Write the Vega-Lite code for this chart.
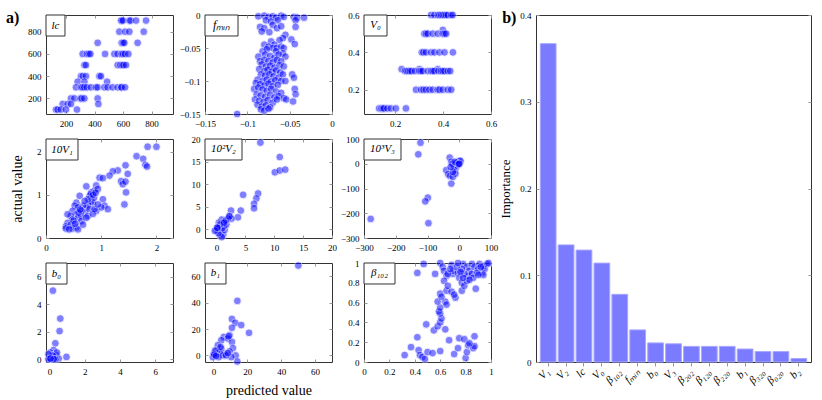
{
"$schema": "https://vega.github.io/schema/vega-lite/v6.json",
"background": "white",
"padding": {"left": 5, "top": 9, "right": 5, "bottom": 5},
"config": {
  "font": "Liberation Serif",
  "view": {"stroke": "#333", "strokeWidth": 1},
  "axis": {"domain": false, "grid": false, "tickColor": "#999", "tickSize": -3, "labelFont": "Liberation Serif", "labelFontSize": 9, "labelColor": "#000", "labelPadding": 8, "labelFlush": false, "labelOverlap": false, "titleFont": "Liberation Serif", "titleFontWeight": "normal", "titleFontSize": 13, "titleColor": "#000"},
  "axisQuantitative": {"format": "~f"},
  "circle": {"size": 60, "color": "#0000ff", "opacity": 0.5, "stroke": "#ffffff", "strokeWidth": 0.8}
},
"datasets": {
  "lc": [
    {"p":586,"a":900},{"p":590,"a":900},{"p":600,"a":900},{"p":644,"a":900},{"p":652,"a":900},{"p":691,"a":900},{"p":761,"a":900},
    {"p":574,"a":800},{"p":614,"a":800},{"p":644,"a":800},{"p":745,"a":800},
    {"p":422,"a":700},{"p":590,"a":700},{"p":600,"a":700},{"p":609,"a":700},{"p":702,"a":700},
    {"p":317,"a":600},{"p":347,"a":600},{"p":360,"a":600},{"p":371,"a":600},{"p":474,"a":600},{"p":539,"a":600},{"p":562,"a":600},{"p":590,"a":600},{"p":600,"a":600},{"p":614,"a":600},{"p":637,"a":600},
    {"p":329,"a":500},{"p":340,"a":500},{"p":562,"a":500},{"p":581,"a":500},{"p":595,"a":500},{"p":604,"a":500},{"p":621,"a":500},
    {"p":305,"a":400},{"p":318,"a":400},{"p":340,"a":400},{"p":434,"a":400},{"p":445,"a":400},
    {"p":282,"a":350},{"p":329,"a":350},{"p":488,"a":350},
    {"p":270,"a":300},{"p":305,"a":300},{"p":315,"a":300},{"p":329,"a":300},{"p":347,"a":300},{"p":375,"a":300},{"p":410,"a":300},{"p":422,"a":300},{"p":469,"a":300},{"p":492,"a":300},{"p":527,"a":300},{"p":562,"a":300},{"p":586,"a":300},{"p":590,"a":300},{"p":614,"a":300},
    {"p":235,"a":200},{"p":259,"a":200},{"p":301,"a":200},{"p":310,"a":200},{"p":329,"a":200},{"p":422,"a":200},
    {"p":177,"a":150},{"p":212,"a":150},{"p":235,"a":150},{"p":427,"a":150},
    {"p":130,"a":100},{"p":142,"a":100},{"p":165,"a":100},{"p":200,"a":100},{"p":277,"a":100}
  ],
  "fmin": [
    {"p":-0.087,"a":-0.002},{"p":-0.080,"a":-0.001},{"p":-0.075,"a":-0.003},{"p":-0.070,"a":-0.002},{"p":-0.066,"a":-0.004},{"p":-0.060,"a":-0.001},{"p":-0.057,"a":-0.003},{"p":-0.045,"a":-0.003},{"p":-0.041,"a":-0.004},{"p":-0.033,"a":-0.004},
    {"p":-0.078,"a":-0.008},{"p":-0.072,"a":-0.010},{"p":-0.064,"a":-0.008},{"p":-0.043,"a":-0.008},{"p":-0.085,"a":-0.018},{"p":-0.080,"a":-0.020},{"p":-0.070,"a":-0.015},{"p":-0.065,"a":-0.020},{"p":-0.060,"a":-0.017},{"p":-0.083,"a":-0.025},{"p":-0.074,"a":-0.026},{"p":-0.043,"a":-0.018},
    {"p":-0.055,"a":-0.030},{"p":-0.058,"a":-0.035},{"p":-0.062,"a":-0.038},{"p":-0.072,"a":-0.040},{"p":-0.080,"a":-0.045},{"p":-0.068,"a":-0.045},{"p":-0.048,"a":-0.037},{"p":-0.044,"a":-0.044},
    {"p":-0.075,"a":-0.048},{"p":-0.070,"a":-0.050},{"p":-0.065,"a":-0.050},{"p":-0.060,"a":-0.048},{"p":-0.057,"a":-0.050},{"p":-0.082,"a":-0.055},{"p":-0.077,"a":-0.052},{"p":-0.066,"a":-0.055},{"p":-0.058,"a":-0.058},
    {"p":-0.087,"a":-0.063},{"p":-0.079,"a":-0.060},{"p":-0.073,"a":-0.062},{"p":-0.068,"a":-0.065},{"p":-0.063,"a":-0.060},{"p":-0.055,"a":-0.063},
    {"p":-0.085,"a":-0.070},{"p":-0.080,"a":-0.068},{"p":-0.075,"a":-0.070},{"p":-0.070,"a":-0.072},{"p":-0.065,"a":-0.068},{"p":-0.060,"a":-0.070},
    {"p":-0.083,"a":-0.075},{"p":-0.078,"a":-0.078},{"p":-0.073,"a":-0.077},{"p":-0.068,"a":-0.080},{"p":-0.062,"a":-0.076},{"p":-0.057,"a":-0.078},
    {"p":-0.086,"a":-0.082},{"p":-0.080,"a":-0.085},{"p":-0.076,"a":-0.083},{"p":-0.071,"a":-0.086},{"p":-0.066,"a":-0.084},{"p":-0.061,"a":-0.087},
    {"p":-0.084,"a":-0.090},{"p":-0.079,"a":-0.092},{"p":-0.074,"a":-0.090},{"p":-0.069,"a":-0.093},{"p":-0.063,"a":-0.095},{"p":-0.058,"a":-0.090},{"p":-0.047,"a":-0.090},{"p":-0.045,"a":-0.095},
    {"p":-0.088,"a":-0.098},{"p":-0.082,"a":-0.100},{"p":-0.077,"a":-0.098},{"p":-0.072,"a":-0.101},{"p":-0.067,"a":-0.099},{"p":-0.060,"a":-0.100},
    {"p":-0.090,"a":-0.103},{"p":-0.085,"a":-0.105},{"p":-0.080,"a":-0.107},{"p":-0.075,"a":-0.104},{"p":-0.070,"a":-0.108},{"p":-0.064,"a":-0.106},{"p":-0.055,"a":-0.100},
    {"p":-0.092,"a":-0.112},{"p":-0.087,"a":-0.110},{"p":-0.082,"a":-0.113},{"p":-0.077,"a":-0.115},{"p":-0.072,"a":-0.112},{"p":-0.066,"a":-0.116},{"p":-0.060,"a":-0.118},{"p":-0.044,"a":-0.112},
    {"p":-0.089,"a":-0.120},{"p":-0.084,"a":-0.122},{"p":-0.079,"a":-0.124},{"p":-0.073,"a":-0.121},{"p":-0.068,"a":-0.125},{"p":-0.063,"a":-0.123},{"p":-0.057,"a":-0.126},{"p":-0.043,"a":-0.120},
    {"p":-0.091,"a":-0.128},{"p":-0.086,"a":-0.130},{"p":-0.081,"a":-0.132},{"p":-0.076,"a":-0.129},{"p":-0.070,"a":-0.133},{"p":-0.065,"a":-0.128},{"p":-0.054,"a":-0.128},{"p":-0.046,"a":-0.131},
    {"p":-0.088,"a":-0.136},{"p":-0.083,"a":-0.139},{"p":-0.078,"a":-0.137},{"p":-0.073,"a":-0.140},{"p":-0.084,"a":-0.143},{"p":-0.080,"a":-0.145},{"p":-0.075,"a":-0.142},{"p":-0.112,"a":-0.150}
  ],
  "v0": [
    {"p":0.350,"a":0.6},{"p":0.364,"a":0.6},{"p":0.378,"a":0.6},{"p":0.385,"a":0.6},{"p":0.392,"a":0.6},{"p":0.399,"a":0.6},{"p":0.406,"a":0.6},{"p":0.413,"a":0.6},{"p":0.420,"a":0.6},{"p":0.434,"a":0.6},{"p":0.440,"a":0.6},
    {"p":0.399,"a":0.52},
    {"p":0.322,"a":0.5},{"p":0.329,"a":0.5},{"p":0.336,"a":0.5},{"p":0.357,"a":0.5},{"p":0.378,"a":0.5},{"p":0.399,"a":0.5},{"p":0.406,"a":0.5},{"p":0.413,"a":0.5},
    {"p":0.311,"a":0.4},{"p":0.318,"a":0.4},{"p":0.329,"a":0.4},{"p":0.350,"a":0.4},{"p":0.364,"a":0.4},{"p":0.385,"a":0.4},{"p":0.406,"a":0.4},{"p":0.441,"a":0.4},
    {"p":0.227,"a":0.31},{"p":0.301,"a":0.31},{"p":0.378,"a":0.31},
    {"p":0.241,"a":0.3},{"p":0.248,"a":0.3},{"p":0.255,"a":0.3},{"p":0.262,"a":0.3},{"p":0.269,"a":0.3},{"p":0.283,"a":0.3},{"p":0.301,"a":0.3},{"p":0.308,"a":0.3},{"p":0.315,"a":0.3},{"p":0.336,"a":0.3},{"p":0.350,"a":0.3},{"p":0.357,"a":0.3},{"p":0.364,"a":0.3},{"p":0.381,"a":0.3},{"p":0.392,"a":0.3},{"p":0.399,"a":0.3},{"p":0.406,"a":0.3},{"p":0.420,"a":0.3},{"p":0.430,"a":0.3},
    {"p":0.287,"a":0.2},{"p":0.308,"a":0.2},{"p":0.318,"a":0.2},{"p":0.329,"a":0.2},{"p":0.343,"a":0.2},{"p":0.357,"a":0.2},{"p":0.378,"a":0.2},{"p":0.385,"a":0.2},{"p":0.399,"a":0.2},{"p":0.420,"a":0.2},{"p":0.434,"a":0.2},
    {"p":0.133,"a":0.1},{"p":0.143,"a":0.1},{"p":0.150,"a":0.1},{"p":0.154,"a":0.1},{"p":0.168,"a":0.1},{"p":0.182,"a":0.1},{"p":0.203,"a":0.1},{"p":0.245,"a":0.1}
  ],
  "v1": [
    {"p":2.0,"a":2.12},{"p":1.84,"a":2.12},{"p":1.64,"a":1.90},{"p":1.76,"a":1.84},{"p":1.80,"a":1.70},{"p":1.83,"a":1.66},{"p":1.44,"a":1.69},{"p":1.48,"a":1.49},{"p":1.30,"a":1.57},{"p":1.21,"a":1.55},{"p":1.15,"a":1.45},{"p":0.97,"a":1.40},{"p":1.03,"a":1.39},{"p":1.36,"a":1.32},{"p":1.39,"a":1.25},{"p":1.44,"a":1.31},{"p":1.45,"a":1.06},{"p":1.42,"a":0.78},{"p":1.03,"a":0.90},{"p":1.06,"a":0.75},{"p":1.12,"a":0.67},
    {"p":0.73,"a":1.20},{"p":0.61,"a":0.98},{"p":0.91,"a":1.22},{"p":0.88,"a":1.10},{"p":0.82,"a":1.06},{"p":0.79,"a":0.98},{"p":0.94,"a":1.14},{"p":0.82,"a":0.86},{"p":0.85,"a":0.82},{"p":0.76,"a":0.78},{"p":0.73,"a":0.71},{"p":0.67,"a":0.75},{"p":0.70,"a":0.59},{"p":0.79,"a":0.67},{"p":0.91,"a":0.63},{"p":1.0,"a":0.71},
    {"p":0.55,"a":0.82},{"p":0.52,"a":0.75},{"p":0.58,"a":0.71},{"p":0.48,"a":0.63},{"p":0.55,"a":0.55},{"p":0.45,"a":0.51},{"p":0.39,"a":0.55},{"p":0.48,"a":0.43},{"p":0.58,"a":0.47},{"p":0.64,"a":0.51},{"p":0.76,"a":0.51},{"p":0.85,"a":0.56},
    {"p":0.39,"a":0.35},{"p":0.36,"a":0.27},{"p":0.45,"a":0.31},{"p":0.55,"a":0.25},{"p":0.48,"a":0.22},{"p":0.58,"a":0.20},{"p":0.64,"a":0.39},{"p":0.73,"a":0.47},{"p":0.67,"a":0.31},{"p":0.36,"a":0.22},{"p":0.42,"a":0.20},
    {"p":0.88,"a":0.67},{"p":0.94,"a":0.78},{"p":0.81,"a":1.02},{"p":0.87,"a":0.94},{"p":0.76,"a":0.90},{"p":0.70,"a":0.86},{"p":0.64,"a":0.63},{"p":0.59,"a":0.59},{"p":0.85,"a":1.0},{"p":0.9,"a":1.05},{"p":0.62,"a":0.66},{"p":0.5,"a":0.4},{"p":0.53,"a":0.33}
  ],
  "v2": [
    {"p":7.6,"a":19.2},{"p":10.95,"a":16.0},{"p":10.1,"a":12.6},{"p":10.95,"a":13.0},{"p":11.9,"a":13.2},{"p":4.6,"a":7.6},{"p":7.2,"a":7.9},{"p":6.9,"a":6.8},{"p":6.5,"a":5.6},{"p":6.5,"a":4.6},{"p":4.2,"a":4.1},{"p":2.5,"a":4.1},{"p":3.7,"a":2.6},{"p":2.3,"a":2.9},{"p":2.6,"a":2.3},
    {"p":1.3,"a":1.6},{"p":0.9,"a":2.1},{"p":0.4,"a":1.4},{"p":0.3,"a":0.4},{"p":0.0,"a":-0.2},{"p":0.75,"a":-0.5},{"p":0.6,"a":-1.3},{"p":1.15,"a":-1.3},{"p":0.9,"a":-1.8},{"p":1.4,"a":-0.2},{"p":0.3,"a":-0.9},{"p":1.3,"a":0.6},{"p":1.0,"a":0.2},{"p":1.7,"a":1.0},{"p":0.6,"a":1.0},{"p":0.2,"a":0.2},{"p":-0.3,"a":-0.4},{"p":2.0,"a":2.3},{"p":1.6,"a":1.9},{"p":1.3,"a":1.4},{"p":0.1,"a":0.3},{"p":2.2,"a":2.8}
  ],
  "v3": [
    {"p":-279,"a":-223},{"p":-122,"a":85},{"p":-129,"a":38},{"p":-99,"a":-137},{"p":-107,"a":-152},{"p":-97,"a":-240},{"p":-30,"a":25},{"p":-25,"a":8},{"p":-41,"a":-26},{"p":-35,"a":-42},{"p":-29,"a":-49},{"p":-25,"a":-80},{"p":-20,"a":-53},{"p":-14,"a":-26},{"p":-9,"a":-13},{"p":-4,"a":1},{"p":2,"a":4},{"p":-6,"a":-6},{"p":-12,"a":-40},{"p":-16,"a":-13},{"p":-22,"a":0},{"p":-1,"a":12},{"p":4,"a":12},{"p":-20,"a":-33},{"p":-27,"a":-13},{"p":-9,"a":4},{"p":-14,"a":8},{"p":-2,"a":-2},{"p":0,"a":0}
  ],
  "b0": [
    {"p":0.19,"a":4.99},{"p":0.61,"a":2.96},{"p":0.57,"a":2.05},{"p":0.33,"a":1.16},{"p":0.23,"a":0.67},{"p":0.96,"a":0.17},{"p":0.04,"a":0.49},{"p":0.13,"a":0.30},{"p":0.0,"a":0.05},{"p":0.08,"a":0.02},{"p":0.38,"a":0.30},{"p":0.52,"a":0.05},{"p":0.27,"a":0.12},{"p":0.42,"a":0.49},{"p":0.19,"a":0.25},{"p":-0.06,"a":0.0},{"p":0.33,"a":0.0},{"p":0.23,"a":0.0},{"p":-0.06,"a":0.37},{"p":0.05,"a":0.05}
  ],
  "b1": [
    {"p":50.1,"a":68.1},{"p":14.1,"a":41.3},{"p":10.9,"a":27.6},{"p":12.9,"a":24.7},{"p":16.4,"a":23.0},{"p":10.9,"a":20.9},{"p":21.0,"a":17.1},{"p":9.5,"a":15.3},{"p":6.1,"a":14.0},{"p":8.5,"a":12.8},{"p":4.6,"a":11.5},{"p":10.9,"a":10.2},{"p":11.5,"a":5.6},{"p":13.1,"a":0.0},{"p":14.1,"a":-4.6},{"p":9.5,"a":3.1},{"p":10.5,"a":-1.3},{"p":6.5,"a":1.3},{"p":4.6,"a":5.1},{"p":2.6,"a":7.7},{"p":1.6,"a":3.1},{"p":0.6,"a":0.0},{"p":-0.4,"a":-1.3},{"p":2.2,"a":1.3},{"p":3.6,"a":2.6},{"p":5.5,"a":0.0},{"p":7.5,"a":0.0},{"p":8.5,"a":1.8},{"p":3.0,"a":-1.3},{"p":0.2,"a":1.3},{"p":1.0,"a":3.8},{"p":4.2,"a":6.4},{"p":0.5,"a":0.5},{"p":1.5,"a":-0.5},{"p":9.0,"a":14.5}
  ],
  "beta": [
    {"p":0.32,"a":0.07},{"p":0.37,"a":0.15},{"p":0.42,"a":0.25},{"p":0.43,"a":0.12},{"p":0.44,"a":0.07},{"p":0.46,"a":0.05},{"p":0.48,"a":0.03},{"p":0.50,"a":0.10},{"p":0.54,"a":0.09},{"p":0.60,"a":0.11},{"p":0.49,"a":0.38},{"p":0.55,"a":0.32},{"p":0.58,"a":0.36},{"p":0.64,"a":0.33},{"p":0.67,"a":0.22},{"p":0.71,"a":0.08},{"p":0.74,"a":0.14},{"p":0.75,"a":0.24},{"p":0.79,"a":0.23},{"p":0.80,"a":0.04},{"p":0.81,"a":0.10},{"p":0.82,"a":0.17},{"p":0.86,"a":0.14},{"p":0.87,"a":0.26},{"p":0.87,"a":0.16},{"p":0.83,"a":0.19},
    {"p":0.60,"a":0.40},{"p":0.61,"a":0.44},{"p":0.60,"a":0.49},{"p":0.59,"a":0.51},{"p":0.60,"a":0.55},{"p":0.58,"a":0.61},{"p":0.64,"a":0.61},{"p":0.65,"a":0.58},{"p":0.60,"a":0.69},{"p":0.61,"a":0.66},{"p":0.65,"a":0.72},{"p":0.69,"a":0.71},{"p":0.72,"a":0.65},{"p":0.71,"a":0.68},
    {"p":0.47,"a":0.99},{"p":0.42,"a":0.90},{"p":0.56,"a":0.89},{"p":0.60,"a":1.0},{"p":0.62,"a":0.96},{"p":0.69,"a":0.98},{"p":0.63,"a":0.92},{"p":0.65,"a":0.87},{"p":0.63,"a":0.82},{"p":0.66,"a":0.77},{"p":0.70,"a":0.89},{"p":0.70,"a":0.92},{"p":0.74,"a":0.90},{"p":0.75,"a":0.85},{"p":0.77,"a":0.80},{"p":0.77,"a":0.72},{"p":0.79,"a":0.77},{"p":0.81,"a":0.82},{"p":0.78,"a":0.99},{"p":0.81,"a":0.96},{"p":0.83,"a":0.92},{"p":0.82,"a":0.87},{"p":0.85,"a":0.89},{"p":0.85,"a":0.99},{"p":0.87,"a":0.96},{"p":0.90,"a":0.94},{"p":0.91,"a":0.99},{"p":0.93,"a":0.90},{"p":0.94,"a":0.97},{"p":0.95,"a":0.94},{"p":0.97,"a":0.99},{"p":0.98,"a":1.0},{"p":0.88,"a":0.74},{"p":0.79,"a":0.89},{"p":0.77,"a":0.94},{"p":0.73,"a":0.96},{"p":0.74,"a":1.0},{"p":0.89,"a":0.90},{"p":0.86,"a":0.85},{"p":0.83,"a":0.83},{"p":0.94,"a":0.88},{"p":0.90,"a":0.88},{"p":0.66,"a":0.89},{"p":0.78,"a":0.85},{"p":0.92,"a":0.96},{"p":0.68,"a":0.94},{"p":0.76,"a":0.91}
  ],
  "imp": [
    {"name":"V₁","v":0.367},{"name":"V₂","v":0.135},{"name":"lc","v":0.129},{"name":"V₀","v":0.114},{"name":"β₁₀₂","v":0.078},{"name":"fₘᵢₙ","v":0.037},{"name":"b₀","v":0.022},{"name":"V₃","v":0.021},{"name":"β₂₀₂","v":0.018},{"name":"β₁₂₀","v":0.018},{"name":"β₂₂₀","v":0.018},{"name":"b₁","v":0.015},{"name":"β₃₂₀","v":0.012},{"name":"β₀₂₀","v":0.012},{"name":"b₂","v":0.004}
  ]
},
"hconcat": [
  {"concat": [
      {"width":127,"height":99,"resolve":{"axis":{"x":"independent","y":"independent"}},"layer":[
        {"data":{"name":"lc"},"mark":"circle","encoding":{"x":{"field":"p","type":"quantitative","scale":{"domain":[60,950],"nice":false,"zero":false},"axis":{"values":[200,400,600,800],"title":null}},"y":{"field":"a","type":"quantitative","scale":{"domain":[60,950],"nice":false,"zero":false},"axis":{"values":[200,400,600,800],"title":null}}}},
        {"data":{"values":[{}]},"mark":{"type":"rect","fill":"white","stroke":"#333","strokeWidth":1},"encoding":{"x":{"datum":60,"scale":{"domain":[60,950],"nice":false,"zero":false},"axis":{"orient":"top","labels":false,"title":null,"values":[200,400,600,800]}},"x2":{"datum":193},"y":{"datum":950,"scale":{"domain":[60,950],"nice":false,"zero":false},"axis":{"orient":"right","labels":false,"title":null,"values":[200,400,600,800]}},"y2":{"datum":761}}},
        {"data":{"values":[{}]},"mark":{"type":"text","text":"lc","font":"Liberation Serif","fontStyle":"italic","fontSize":11,"align":"center","baseline":"middle"},"encoding":{"x":{"datum":126.5,"scale":{"domain":[60,950],"nice":false,"zero":false},"axis":null},"y":{"datum":855.5,"scale":{"domain":[60,950],"nice":false,"zero":false},"axis":null}}},
        {"data":{"values":[{}]},"mark":{"type":"text","text":"a)","font":"Liberation Serif","fontWeight":"bold","fontSize":16,"align":"left","baseline":"top","dx":-40,"dy":-5},"encoding":{"x":{"datum":60,"scale":{"domain":[60,950],"nice":false,"zero":false},"axis":null},"y":{"datum":950,"scale":{"domain":[60,950],"nice":false,"zero":false},"axis":null}}}
      ]},
      {"width":127,"height":99,"resolve":{"axis":{"x":"independent","y":"independent"}},"layer":[
        {"data":{"name":"fmin"},"mark":"circle","encoding":{"x":{"field":"p","type":"quantitative","scale":{"domain":[-0.15,0],"nice":false,"zero":false},"axis":{"values":[-0.15,-0.1,-0.05,0],"title":null}},"y":{"field":"a","type":"quantitative","scale":{"domain":[-0.15,0],"nice":false,"zero":false},"axis":{"values":[-0.15,-0.1,-0.05,0],"title":null}}}},
        {"data":{"values":[{}]},"mark":{"type":"rect","fill":"white","stroke":"#333","strokeWidth":1},"encoding":{"x":{"datum":-0.15,"scale":{"domain":[-0.15,0],"nice":false,"zero":false},"axis":{"orient":"top","labels":false,"title":null,"values":[-0.15,-0.1,-0.05,0]}},"x2":{"datum":-0.111},"y":{"datum":0,"scale":{"domain":[-0.15,0],"nice":false,"zero":false},"axis":{"orient":"right","labels":false,"title":null,"values":[-0.15,-0.1,-0.05,0]}},"y2":{"datum":-0.0318}}},
        {"data":{"values":[{}]},"mark":{"type":"text","text":"fₘᵢₙ","font":"Liberation Serif","fontStyle":"italic","fontSize":12,"align":"center","baseline":"middle"},"encoding":{"x":{"datum":-0.1305,"scale":{"domain":[-0.15,0],"nice":false,"zero":false},"axis":null},"y":{"datum":-0.0159,"scale":{"domain":[-0.15,0],"nice":false,"zero":false},"axis":null}}}
      ]},
      {"width":127,"height":99,"resolve":{"axis":{"x":"independent","y":"independent"}},"layer":[
        {"data":{"name":"v0"},"mark":"circle","encoding":{"x":{"field":"p","type":"quantitative","scale":{"domain":[0.07,0.6],"nice":false,"zero":false},"axis":{"values":[0.2,0.4,0.6],"title":null}},"y":{"field":"a","type":"quantitative","scale":{"domain":[0.07,0.6],"nice":false,"zero":false},"axis":{"values":[0.2,0.4,0.6],"title":null}}}},
        {"data":{"values":[{}]},"mark":{"type":"rect","fill":"white","stroke":"#333","strokeWidth":1},"encoding":{"x":{"datum":0.07,"scale":{"domain":[0.07,0.6],"nice":false,"zero":false},"axis":{"orient":"top","labels":false,"title":null,"values":[0.2,0.4,0.6]}},"x2":{"datum":0.166},"y":{"datum":0.6,"scale":{"domain":[0.07,0.6],"nice":false,"zero":false},"axis":{"orient":"right","labels":false,"title":null,"values":[0.2,0.4,0.6]}},"y2":{"datum":0.4876}}},
        {"data":{"values":[{}]},"mark":{"type":"text","text":"V₀","font":"Liberation Serif","fontStyle":"italic","fontSize":11,"align":"center","baseline":"middle"},"encoding":{"x":{"datum":0.118,"scale":{"domain":[0.07,0.6],"nice":false,"zero":false},"axis":null},"y":{"datum":0.544,"scale":{"domain":[0.07,0.6],"nice":false,"zero":false},"axis":null}}}
      ]},
      {"width":127,"height":99,"resolve":{"axis":{"x":"independent","y":"independent"}},"layer":[
        {"data":{"name":"v1"},"mark":"circle","encoding":{"x":{"field":"p","type":"quantitative","scale":{"domain":[0,2.3],"nice":false,"zero":false},"axis":{"values":[0,1,2],"title":null}},"y":{"field":"a","type":"quantitative","scale":{"domain":[0,2.3],"nice":false,"zero":false},"axis":{"values":[0,1,2],"title":"actual value","titlePadding":12,"titleFontSize":14}}}},
        {"data":{"values":[{}]},"mark":{"type":"rect","fill":"white","stroke":"#333","strokeWidth":1},"encoding":{"x":{"datum":0,"scale":{"domain":[0,2.3],"nice":false,"zero":false},"axis":{"orient":"top","labels":false,"title":null,"values":[0,1,2]}},"x2":{"datum":0.5795},"y":{"datum":2.3,"scale":{"domain":[0,2.3],"nice":false,"zero":false},"axis":{"orient":"right","labels":false,"title":null,"values":[0,1,2]}},"y2":{"datum":1.812}}},
        {"data":{"values":[{}]},"mark":{"type":"text","text":"10V₁","font":"Liberation Serif","fontStyle":"italic","fontSize":11,"align":"center","baseline":"middle"},"encoding":{"x":{"datum":0.29,"scale":{"domain":[0,2.3],"nice":false,"zero":false},"axis":null},"y":{"datum":2.056,"scale":{"domain":[0,2.3],"nice":false,"zero":false},"axis":null}}}
      ]},
      {"width":127,"height":99,"resolve":{"axis":{"x":"independent","y":"independent"}},"layer":[
        {"data":{"name":"v2"},"mark":"circle","encoding":{"x":{"field":"p","type":"quantitative","scale":{"domain":[-2,20],"nice":false,"zero":false},"axis":{"values":[0,5,10,15,20],"title":null}},"y":{"field":"a","type":"quantitative","scale":{"domain":[-2,20],"nice":false,"zero":false},"axis":{"values":[0,5,10,15,20],"title":null}}}},
        {"data":{"values":[{}]},"mark":{"type":"rect","fill":"white","stroke":"#333","strokeWidth":1},"encoding":{"x":{"datum":-2,"scale":{"domain":[-2,20],"nice":false,"zero":false},"axis":{"orient":"top","labels":false,"title":null,"values":[0,5,10,15,20]}},"x2":{"datum":4.41},"y":{"datum":20,"scale":{"domain":[-2,20],"nice":false,"zero":false},"axis":{"orient":"right","labels":false,"title":null,"values":[0,5,10,15,20]}},"y2":{"datum":15.33}}},
        {"data":{"values":[{}]},"mark":{"type":"text","text":"10²V₂","font":"Liberation Serif","fontStyle":"italic","fontSize":11,"align":"center","baseline":"middle"},"encoding":{"x":{"datum":1.2,"scale":{"domain":[-2,20],"nice":false,"zero":false},"axis":null},"y":{"datum":17.67,"scale":{"domain":[-2,20],"nice":false,"zero":false},"axis":null}}}
      ]},
      {"width":127,"height":99,"resolve":{"axis":{"x":"independent","y":"independent"}},"layer":[
        {"data":{"name":"v3"},"mark":"circle","encoding":{"x":{"field":"p","type":"quantitative","scale":{"domain":[-300,100],"nice":false,"zero":false},"axis":{"values":[-300,-200,-100,0,100],"title":null}},"y":{"field":"a","type":"quantitative","scale":{"domain":[-300,100],"nice":false,"zero":false},"axis":{"values":[-300,-200,-100,0,100],"title":null}}}},
        {"data":{"values":[{}]},"mark":{"type":"rect","fill":"white","stroke":"#333","strokeWidth":1},"encoding":{"x":{"datum":-300,"scale":{"domain":[-300,100],"nice":false,"zero":false},"axis":{"orient":"top","labels":false,"title":null,"values":[-300,-200,-100,0,100]}},"x2":{"datum":-183.5},"y":{"datum":100,"scale":{"domain":[-300,100],"nice":false,"zero":false},"axis":{"orient":"right","labels":false,"title":null,"values":[-300,-200,-100,0,100]}},"y2":{"datum":15.15}}},
        {"data":{"values":[{}]},"mark":{"type":"text","text":"10³V₃","font":"Liberation Serif","fontStyle":"italic","fontSize":11,"align":"center","baseline":"middle"},"encoding":{"x":{"datum":-241.7,"scale":{"domain":[-300,100],"nice":false,"zero":false},"axis":null},"y":{"datum":57.6,"scale":{"domain":[-300,100],"nice":false,"zero":false},"axis":null}}}
      ]},
      {"width":127,"height":99,"resolve":{"axis":{"x":"independent","y":"independent"}},"layer":[
        {"data":{"name":"b0"},"mark":"circle","encoding":{"x":{"field":"p","type":"quantitative","scale":{"domain":[-0.2,7],"nice":false,"zero":false},"axis":{"values":[0,2,4,6],"title":null}},"y":{"field":"a","type":"quantitative","scale":{"domain":[-0.2,7],"nice":false,"zero":false},"axis":{"values":[0,2,4,6],"title":null}}}},
        {"data":{"values":[{}]},"mark":{"type":"rect","fill":"white","stroke":"#333","strokeWidth":1},"encoding":{"x":{"datum":-0.2,"scale":{"domain":[-0.2,7],"nice":false,"zero":false},"axis":{"orient":"top","labels":false,"title":null,"values":[0,2,4,6]}},"x2":{"datum":0.99},"y":{"datum":7,"scale":{"domain":[-0.2,7],"nice":false,"zero":false},"axis":{"orient":"right","labels":false,"title":null,"values":[0,2,4,6]}},"y2":{"datum":5.47}}},
        {"data":{"values":[{}]},"mark":{"type":"text","text":"b₀","font":"Liberation Serif","fontStyle":"italic","fontSize":11,"align":"center","baseline":"middle"},"encoding":{"x":{"datum":0.395,"scale":{"domain":[-0.2,7],"nice":false,"zero":false},"axis":null},"y":{"datum":6.235,"scale":{"domain":[-0.2,7],"nice":false,"zero":false},"axis":null}}}
      ]},
      {"width":127,"height":99,"resolve":{"axis":{"x":"independent","y":"independent"}},"layer":[
        {"data":{"name":"b1"},"mark":"circle","encoding":{"x":{"field":"p","type":"quantitative","scale":{"domain":[-5,70],"nice":false,"zero":false},"axis":{"values":[0,20,40,60],"title":"predicted value","titlePadding":7,"titleFontSize":14}},"y":{"field":"a","type":"quantitative","scale":{"domain":[-5,70],"nice":false,"zero":false},"axis":{"values":[0,20,40,60],"title":null}}}},
        {"data":{"values":[{}]},"mark":{"type":"rect","fill":"white","stroke":"#333","strokeWidth":1},"encoding":{"x":{"datum":-5,"scale":{"domain":[-5,70],"nice":false,"zero":false},"axis":{"orient":"top","labels":false,"title":null,"values":[0,20,40,60]}},"x2":{"datum":7.4},"y":{"datum":70,"scale":{"domain":[-5,70],"nice":false,"zero":false},"axis":{"orient":"right","labels":false,"title":null,"values":[0,20,40,60]}},"y2":{"datum":54.1}}},
        {"data":{"values":[{}]},"mark":{"type":"text","text":"b₁","font":"Liberation Serif","fontStyle":"italic","fontSize":11,"align":"center","baseline":"middle"},"encoding":{"x":{"datum":1.2,"scale":{"domain":[-5,70],"nice":false,"zero":false},"axis":null},"y":{"datum":62.05,"scale":{"domain":[-5,70],"nice":false,"zero":false},"axis":null}}}
      ]},
      {"width":127,"height":99,"resolve":{"axis":{"x":"independent","y":"independent"}},"layer":[
        {"data":{"name":"beta"},"mark":"circle","encoding":{"x":{"field":"p","type":"quantitative","scale":{"domain":[0,1],"nice":false,"zero":false},"axis":{"values":[0,0.2,0.4,0.6,0.8,1],"title":null}},"y":{"field":"a","type":"quantitative","scale":{"domain":[0,1],"nice":false,"zero":false},"axis":{"values":[0,0.2,0.4,0.6,0.8,1],"title":null}}}},
        {"data":{"values":[{}]},"mark":{"type":"rect","fill":"white","stroke":"#333","strokeWidth":1},"encoding":{"x":{"datum":0,"scale":{"domain":[0,1],"nice":false,"zero":false},"axis":{"orient":"top","labels":false,"title":null,"values":[0,0.2,0.4,0.6,0.8,1]}},"x2":{"datum":0.244},"y":{"datum":1,"scale":{"domain":[0,1],"nice":false,"zero":false},"axis":{"orient":"right","labels":false,"title":null,"values":[0,0.2,0.4,0.6,0.8,1]}},"y2":{"datum":0.788}}},
        {"data":{"values":[{}]},"mark":{"type":"text","text":"β₁₀₂","font":"Liberation Serif","fontStyle":"italic","fontSize":11,"align":"center","baseline":"middle"},"encoding":{"x":{"datum":0.122,"scale":{"domain":[0,1],"nice":false,"zero":false},"axis":null},"y":{"datum":0.894,"scale":{"domain":[0,1],"nice":false,"zero":false},"axis":null}}}
      ]}
  ], "columns": 3, "spacing": {"row": 25, "column": 32}, "bounds": "flush"},
  {"width":275,"height":347,"resolve":{"axis":{"x":"independent","y":"independent"}},"layer":[
    {"data":{"name":"imp"},"mark":{"type":"bar","fill":"#7b7bff","stroke":"#a8a8ff","strokeWidth":1},"encoding":{
      "x":{"field":"name","type":"nominal","sort":null,"scale":{"paddingInner":0.12,"paddingOuter":0.24},"axis":{"title":null,"labelAngle":315,"labelAlign":"right","labelBaseline":"middle","tickSize":4,"labelPadding":4,"labelFontStyle":"italic","labelFontSize":11}},
      "y":{"field":"v","type":"quantitative","scale":{"domain":[0,0.4],"nice":false},"axis":{"values":[0,0.1,0.2,0.3,0.4],"title":"Importance","titlePadding":7}}}},
    {"data":{"values":[{}]},"mark":{"type":"text","text":"b)","font":"Liberation Serif","fontWeight":"bold","fontSize":16,"align":"left","baseline":"top","dx":-46,"dy":-5},"encoding":{"x":{"datum":"V₁","type":"nominal","axis":null},"y":{"datum":0.4,"scale":{"domain":[0,0.4],"nice":false},"axis":{"orient":"right","labels":false,"title":null,"values":[0.1,0.2,0.3,0.4]}}}}
  ]}
],
"spacing": 0
}
